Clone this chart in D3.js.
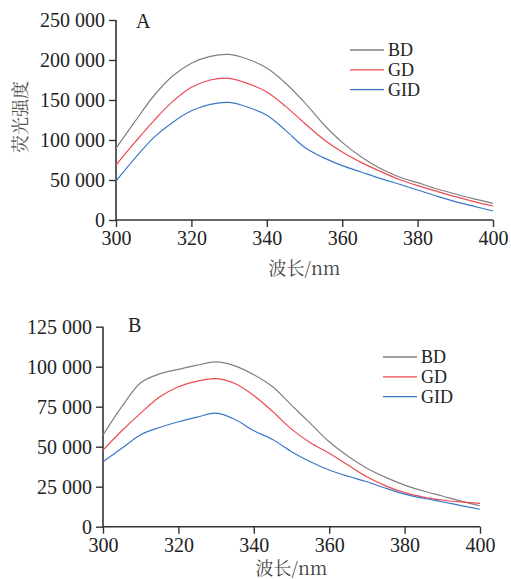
<!DOCTYPE html>
<html><head><meta charset="utf-8">
<script src="https://cdn.jsdelivr.net/npm/d3@7"></script>
<style>body{margin:0;background:#fff}svg{display:block}</style>
</head><body>
<svg id="c" width="511" height="579"></svg>
<script>
const wavelengths = [300,305,310,315,320,325,330,335,340,345,350,355,360,365,370,375,380,385,390,395,400];
const seriesNames = ["BD","GD","GID"];
const seriesColors = ["#808080","#ee4a52","#3a78c8"];
// Panel A
const aBD  = [89600,123000,155000,180000,196000,204500,207000,201000,190000,171000,147000,120000,97000,79000,64600,54000,46700,39000,32500,26500,20800];
const aGD  = [68750,97000,124000,148000,166000,175000,177000,170500,160000,142000,121000,101000,85000,72000,61000,51000,43000,36000,29200,23000,17500];
const aGID = [48750,77000,103000,122000,136500,144500,147000,141000,131000,112000,91000,78000,68000,60000,52000,45000,37500,30000,23000,17000,11250];
// Panel B
const bBD  = [57300,75000,90000,95500,98300,101000,103000,100500,95000,87500,76000,64600,53100,44000,36500,30800,26000,22300,19200,16000,13100];
const bGD  = [47900,60000,71000,81000,87500,91000,92500,89500,82000,72000,61000,52500,45900,38500,31250,25500,21250,18500,16700,15500,14600];
const bGID = [40600,49000,57500,62000,65600,68500,71000,67000,60000,54500,46900,40600,35400,31500,28100,24000,20400,17800,15600,13200,10900];
const xTicks = [300,320,340,360,380,400];
const aYTicks = [0,50000,100000,150000,200000,250000];
const bYTicks = [0,25000,50000,75000,100000,125000];
const xLabel = "波长/nm";
const yLabel = "荧光强度";

const svg = d3.select("#c");
const fmt = v => { const s = String(v); return s.length > 3 ? s.slice(0, s.length-3) + " " + s.slice(-3) : s; };
const serif = "'Liberation Serif','Times New Roman',serif";
const axisColor = "#333";

function panel(opts){
  const {left,right,top,bottom,yMax,yTicks,series,tag,tagX,tagY,legX,legY,xLabY,showY} = opts;
  const x = d3.scaleLinear().domain([300,400]).range([left,right]);
  const y = d3.scaleLinear().domain([0,yMax]).range([bottom,top]);
  const g = svg.append("g");
  const ya = g.append("g").attr("transform",`translate(${left},0)`)
    .call(d3.axisLeft(y).tickValues(yTicks).tickFormat(fmt).tickSize(7).tickPadding(4));
  const xa = g.append("g").attr("transform",`translate(0,${bottom})`)
    .call(d3.axisBottom(x).tickValues(xTicks).tickFormat(d=>d).tickSize(7).tickPadding(4));
  [ya,xa].forEach(a=>{
    a.select(".domain").attr("stroke",axisColor).attr("stroke-width",1.6);
    a.selectAll(".tick line").attr("stroke",axisColor).attr("stroke-width",1.4);
    a.selectAll(".tick text").attr("fill","#222").style("font-family",serif).style("font-size","20px");
  });
  ya.select(".domain").attr("d",`M0,${top}V${bottom}`);
  xa.select(".domain").attr("d",`M${left},0H${right}`);
  const line = d3.line().x((d,i)=>x(wavelengths[i])).y(d=>y(d)).curve(d3.curveCatmullRom.alpha(0.5));
  series.forEach((s,k)=>{
    g.append("path").attr("d",line(s)).attr("fill","none")
      .attr("stroke",seriesColors[k]).attr("stroke-width",1.2);
  });
  g.append("text").attr("x",tagX).attr("y",tagY).text(tag)
    .style("font-family",serif).style("font-size","20px").attr("fill","#222");
  seriesNames.forEach((n,k)=>{
    const yy = legY + k*19.8;
    g.append("line").attr("x1",legX).attr("x2",legX+34).attr("y1",yy).attr("y2",yy)
      .attr("stroke",seriesColors[k]).attr("stroke-width",1.3);
    g.append("text").attr("x",legX+38).attr("y",yy+6.3).text(n)
      .style("font-family",serif).style("font-size","18px").attr("fill","#222");
  });
  g.append("text").attr("x",(left+right)/2).attr("y",xLabY).attr("text-anchor","middle")
    .text(xLabel).style("font-family","'Noto Serif CJK SC','Noto Sans CJK SC',serif").style("font-size","18px").attr("fill","#444");
  if(showY){
    g.append("text").attr("transform",`translate(27,${(top+bottom)/2-3}) rotate(-90)`)
      .attr("text-anchor","middle").text(yLabel)
      .style("font-family","'Noto Serif CJK SC','Noto Sans CJK SC',serif").style("font-size","18px").attr("fill","#555");
  }
}

panel({left:116,right:493,top:20,bottom:220,yMax:250000,yTicks:aYTicks,
  series:[aBD,aGD,aGID],tag:"A",tagX:136,tagY:28,legX:350,legY:50,xLabY:275,showY:true});
panel({left:103,right:480,top:326.7,bottom:526.7,yMax:125000,yTicks:bYTicks,
  series:[bBD,bGD,bGID],tag:"B",tagX:128,tagY:332,legX:383,legY:357,xLabY:575,showY:false});
</script>
</body></html>
